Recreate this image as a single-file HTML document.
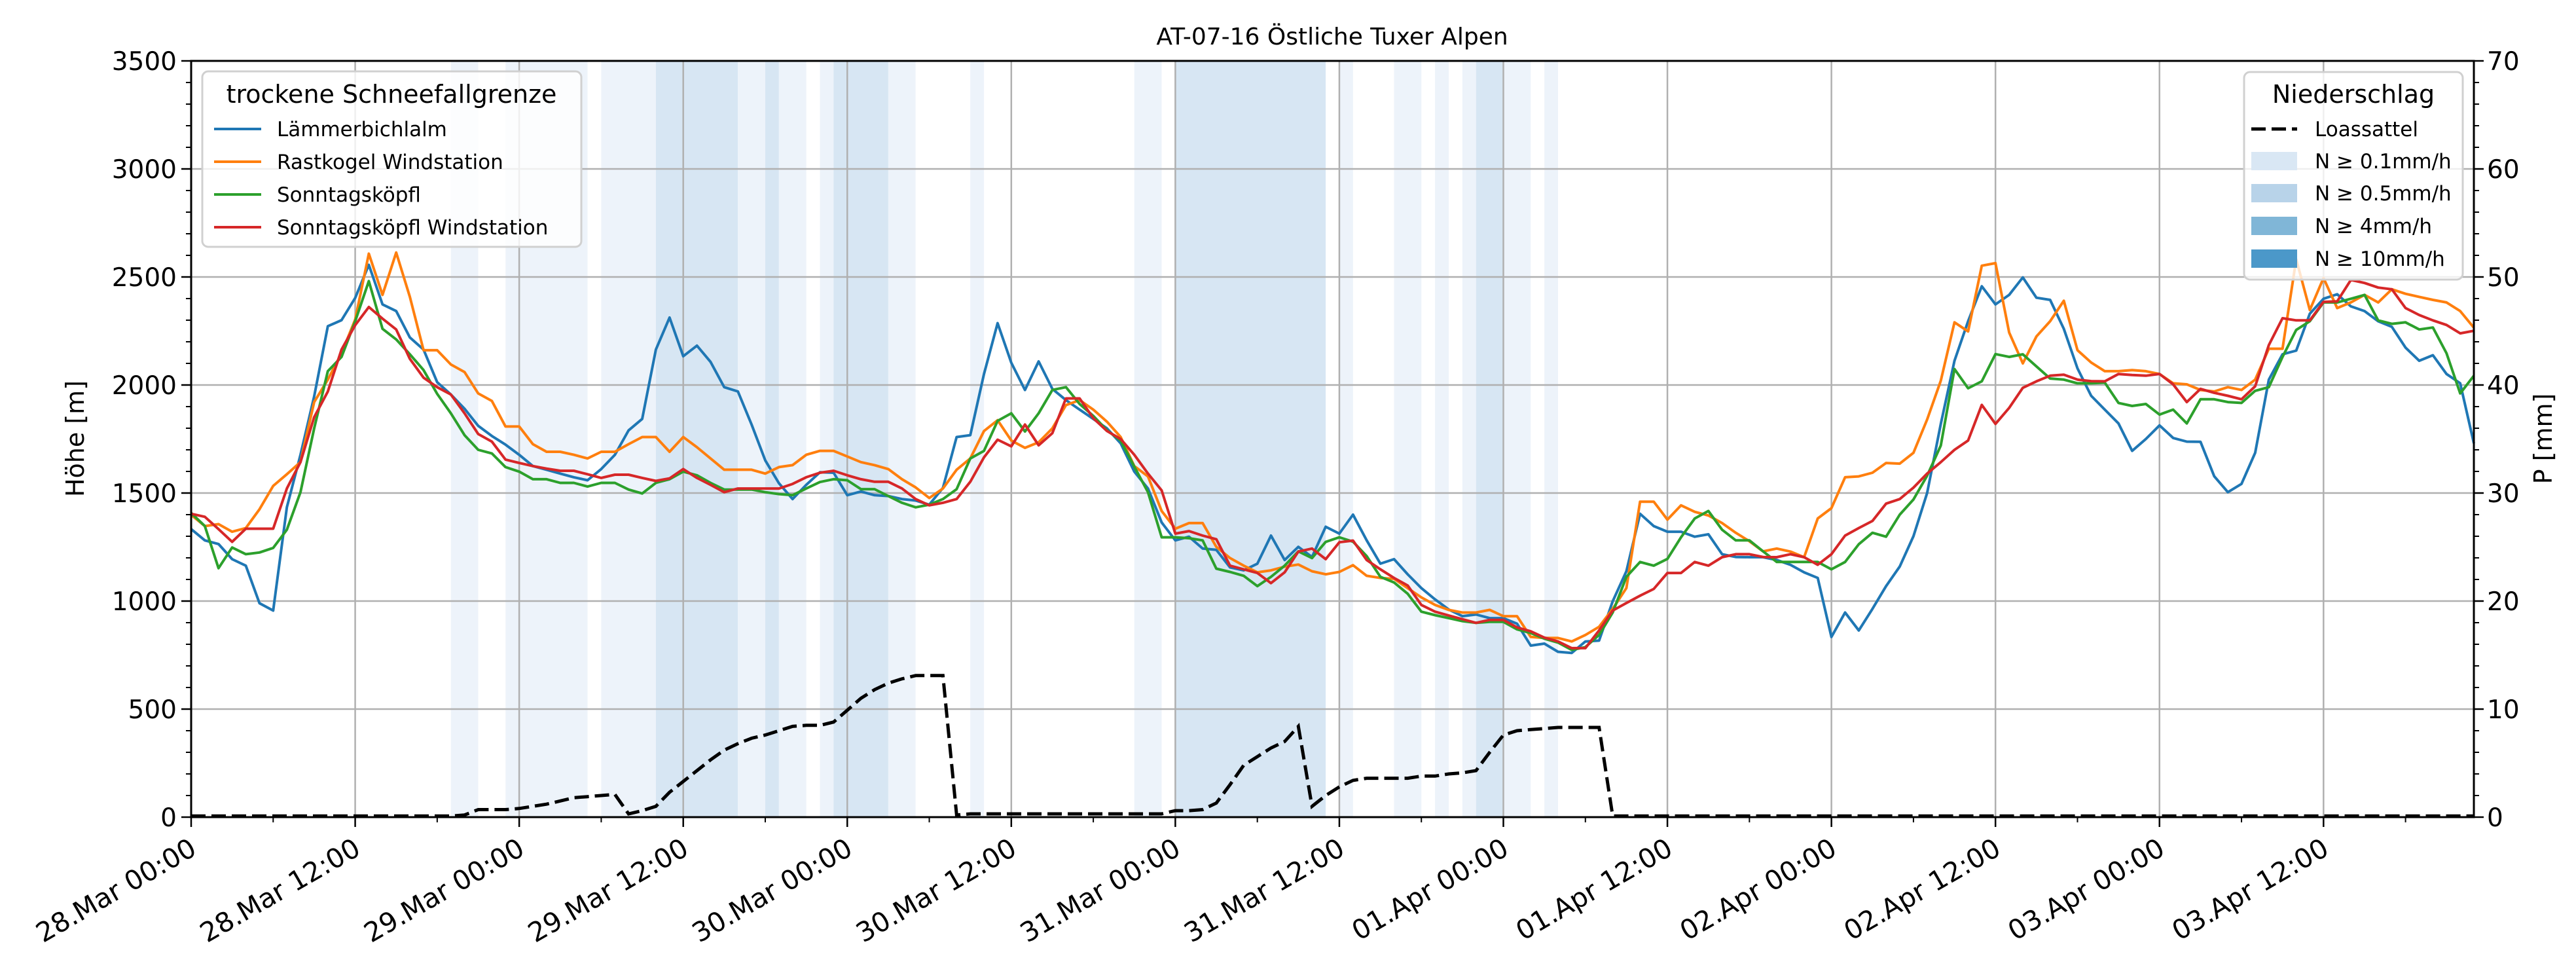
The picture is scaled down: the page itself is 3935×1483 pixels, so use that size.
<!DOCTYPE html>
<html><head><meta charset="utf-8"><style>
html,body{margin:0;padding:0;background:#fff;}
svg{display:block;font-family:"DejaVu Sans","Liberation Sans",sans-serif;}
</style></head><body>
<svg id="chart" width="3935" height="1483" viewBox="0 0 3935 1483" xmlns="http://www.w3.org/2000/svg">
<rect width="3935" height="1483" fill="#fff"/>
<g id="bands"></g>
<g id="grid"></g>
<g id="series"></g>
<g id="axes"></g>
<text x="2035" y="68" text-anchor="middle" font-size="36">AT-07-16 Östliche Tuxer Alpen</text>
<text transform="translate(128,670) rotate(-90)" text-anchor="middle" font-size="38">Höhe [m]</text>
<text transform="translate(3898,670) rotate(-90)" text-anchor="middle" font-size="38">P [mm]</text>
<g>
<rect x="309" y="109" width="579" height="268" rx="9" fill="#fff" fill-opacity="0.8" stroke="#d0d0d0" stroke-width="3"/>
<text x="598" y="157" text-anchor="middle" font-size="38">trockene Schneefallgrenze</text>
<line x1="327" y1="197" x2="399" y2="197" stroke="#1f77b4" stroke-width="4"/>
<text x="423" y="208" font-size="31">Lämmerbichlalm</text>
<line x1="327" y1="247" x2="399" y2="247" stroke="#ff7f0e" stroke-width="4"/>
<text x="423" y="258" font-size="31">Rastkogel Windstation</text>
<line x1="327" y1="297" x2="399" y2="297" stroke="#2ca02c" stroke-width="4"/>
<text x="423" y="308" font-size="31">Sonntagsköpfl</text>
<line x1="327" y1="347" x2="399" y2="347" stroke="#d62728" stroke-width="4"/>
<text x="423" y="358" font-size="31">Sonntagsköpfl Windstation</text>
</g>
<g>
<rect x="3428" y="110" width="334" height="317" rx="9" fill="#fff" fill-opacity="0.8" stroke="#d0d0d0" stroke-width="3"/>
<text x="3595" y="157" text-anchor="middle" font-size="38">Niederschlag</text>
<line x1="3439" y1="197" x2="3509" y2="197" stroke="#000" stroke-width="5" stroke-dasharray="22,9"/>
<text x="3536" y="208" font-size="31">Loassattel</text>
<rect x="3439" y="232" width="70" height="28" fill="#d9e7f4"/>
<text x="3536" y="257" font-size="31">N ≥ 0.1mm/h</text>
<rect x="3439" y="281" width="70" height="28" fill="#b8d3e9"/>
<text x="3536" y="306" font-size="31">N ≥ 0.5mm/h</text>
<rect x="3439" y="331" width="70" height="28" fill="#80b6d7"/>
<text x="3536" y="356" font-size="31">N ≥ 4mm/h</text>
<rect x="3439" y="381" width="70" height="28" fill="#4b98c9"/>
<text x="3536" y="406" font-size="31">N ≥ 10mm/h</text>
</g>
</svg>
<script>
const xTickLabels = ["28.Mar 00:00","28.Mar 12:00","29.Mar 00:00","29.Mar 12:00","30.Mar 00:00","30.Mar 12:00","31.Mar 00:00","31.Mar 12:00","01.Apr 00:00","01.Apr 12:00","02.Apr 00:00","02.Apr 12:00","03.Apr 00:00","03.Apr 12:00"];
const yTicks = [0,500,1000,1500,2000,2500,3000,3500];
const y2Ticks = [0,10,20,30,40,50,60,70];
const seriesNames = ["Lämmerbichlalm","Rastkogel Windstation","Sonntagsköpfl","Sonntagsköpfl Windstation"];
const seriesColors = ["#1f77b4","#ff7f0e","#2ca02c","#d62728"];
const blue = [1333,1281,1264,1194,1164,990,956,1434,1677,1947,2272,2300,2403,2556,2373,2342,2220,2164,2013,1956,1890,1811,1764,1724,1677,1625,1608,1590,1573,1559,1611,1677,1790,1843,2164,2312,2133,2182,2107,1990,1970,1817,1651,1545,1472,1538,1596,1594,1490,1507,1490,1486,1472,1465,1446,1524,1759,1768,2051,2286,2103,1977,2109,1982,1930,1886,1843,1799,1730,1599,1521,1364,1281,1298,1243,1237,1156,1142,1173,1303,1190,1251,1204,1344,1312,1400,1281,1173,1194,1124,1060,1008,961,930,938,921,921,895,794,803,765,760,813,817,999,1138,1404,1347,1321,1321,1298,1309,1217,1204,1203,1203,1190,1168,1133,1107,834,947,864,964,1069,1160,1300,1500,1820,2112,2295,2457,2373,2417,2498,2404,2394,2260,2077,1950,1886,1822,1695,1750,1813,1755,1738,1737,1578,1504,1542,1686,2025,2142,2159,2330,2399,2420,2364,2342,2295,2269,2173,2112,2138,2051,2008,1730];
const orange = [1399,1347,1356,1321,1338,1425,1533,1587,1643,1921,2025,2147,2303,2608,2417,2613,2408,2161,2161,2095,2060,1961,1926,1808,1808,1726,1691,1691,1677,1660,1691,1691,1726,1759,1759,1691,1759,1712,1660,1608,1608,1608,1590,1620,1629,1677,1695,1695,1669,1643,1629,1611,1564,1526,1477,1521,1608,1660,1787,1837,1743,1709,1735,1799,1907,1930,1886,1830,1759,1625,1577,1417,1335,1361,1361,1251,1199,1164,1133,1142,1159,1169,1138,1124,1135,1166,1117,1107,1103,1060,1017,982,959,947,947,959,930,930,834,829,829,813,843,881,964,1060,1460,1460,1377,1443,1413,1396,1361,1316,1277,1230,1243,1229,1203,1382,1430,1573,1577,1594,1639,1636,1686,1840,2020,2290,2248,2552,2564,2243,2100,2225,2295,2390,2161,2104,2064,2064,2069,2064,2051,2008,2003,1977,1970,1990,1977,2025,2168,2168,2582,2347,2495,2356,2382,2417,2382,2443,2422,2408,2394,2382,2342,2265];
const green = [1408,1347,1152,1248,1217,1225,1246,1330,1504,1799,2064,2130,2295,2481,2260,2211,2142,2069,1959,1869,1768,1700,1683,1620,1599,1564,1564,1547,1547,1530,1547,1547,1516,1498,1547,1564,1599,1582,1547,1516,1516,1516,1504,1495,1490,1521,1551,1564,1559,1518,1518,1486,1455,1434,1446,1472,1518,1660,1695,1834,1869,1785,1869,1977,1990,1912,1857,1790,1743,1622,1504,1295,1295,1291,1281,1150,1135,1117,1069,1112,1164,1230,1199,1274,1295,1275,1208,1112,1086,1034,951,935,921,907,899,904,904,869,852,826,808,774,787,843,947,1112,1181,1164,1195,1295,1382,1417,1330,1281,1281,1230,1181,1181,1181,1181,1147,1181,1263,1316,1298,1400,1470,1580,1720,2074,1985,2017,2143,2130,2142,2086,2030,2025,2008,2008,2011,1917,1903,1912,1863,1886,1822,1934,1934,1921,1917,1973,1990,2130,2255,2295,2382,2382,2399,2417,2299,2283,2290,2257,2266,2147,1961,2043];
const red = [1404,1390,1333,1274,1335,1335,1335,1521,1643,1851,1970,2164,2277,2361,2307,2257,2121,2034,1990,1956,1869,1773,1738,1655,1639,1625,1613,1603,1603,1587,1570,1585,1585,1570,1556,1568,1611,1570,1538,1504,1521,1521,1521,1521,1542,1573,1594,1603,1582,1564,1552,1552,1521,1472,1443,1455,1472,1552,1665,1747,1716,1817,1721,1777,1938,1938,1846,1787,1750,1677,1590,1512,1312,1324,1303,1286,1164,1147,1130,1083,1133,1229,1243,1194,1272,1280,1190,1147,1107,1072,982,951,933,916,899,913,913,878,860,831,813,782,782,864,956,991,1025,1056,1130,1130,1181,1164,1203,1217,1217,1204,1203,1217,1203,1168,1217,1303,1338,1371,1451,1472,1525,1590,1643,1700,1743,1908,1820,1894,1987,2017,2043,2048,2025,2018,2017,2051,2046,2043,2051,2003,1921,1982,1964,1950,1934,1994,2185,2309,2299,2299,2385,2387,2486,2472,2451,2443,2356,2324,2299,2278,2239,2251];
const precip = [0.1,0.1,0.1,0.1,0.1,0.1,0.1,0.1,0.1,0.1,0.1,0.1,0.1,0.1,0.1,0.1,0.1,0.1,0.1,0.1,0.2,0.7,0.7,0.7,0.8,1.0,1.2,1.5,1.8,1.9,2.0,2.1,0.3,0.6,1.0,2.3,3.3,4.3,5.3,6.2,6.8,7.3,7.6,8.0,8.4,8.5,8.5,8.8,9.9,11.0,11.8,12.4,12.8,13.1,13.1,13.1,0.2,0.3,0.3,0.3,0.3,0.3,0.3,0.3,0.3,0.3,0.3,0.3,0.3,0.3,0.3,0.3,0.6,0.6,0.7,1.3,3.0,4.8,5.6,6.4,7.0,8.4,1.0,2.0,2.8,3.4,3.6,3.6,3.6,3.6,3.8,3.8,4.0,4.1,4.3,6.0,7.6,8.0,8.1,8.2,8.3,8.3,8.3,8.3,0.1,0.1,0.1,0.1,0.1,0.1,0.1,0.1,0.1,0.1,0.1,0.1,0.1,0.1,0.1,0.1,0.1,0.1,0.1,0.1,0.1,0.1,0.1,0.1,0.1,0.1,0.1,0.1,0.1,0.1,0.1,0.1,0.1,0.1,0.1,0.1,0.1,0.1,0.1,0.1,0.1,0.1,0.1,0.1,0.1,0.1,0.1,0.1,0.1,0.1,0.1,0.1,0.1,0.1,0.1,0.1,0.1,0.1,0.1,0.1,0.1,0.1,0.1,0.1];
const bandStart = [19,23,30,34,40,42,43,46,47,51,57,69,72,84,88,91,93,94,96,99];
const bandEnd   = [21,29,34,40,42,43,45,47,51,53,58,71,83,85,90,92,94,96,98,100];
const bandLevel = [1,1,1,2,1,2,1,1,2,1,1,1,2,1,1,1,1,2,1,1];

const NS="http://www.w3.org/2000/svg";
const L=292,R=3779,T=93,B=1248,HMAX=167;
const xs=h=>L+(R-L)*h/HMAX;
const ys=v=>B-(B-T)*v/3500;
const ys2=v=>B-(B-T)*v/70;
function mk(tag,attrs,parent){const e=document.createElementNS(NS,tag);for(const k in attrs)e.setAttribute(k,attrs[k]);parent.appendChild(e);return e;}
const gB=document.getElementById('bands'),gG=document.getElementById('grid'),gS=document.getElementById('series'),gA=document.getElementById('axes');
const bandColors={1:"#edf3fa",2:"#d7e6f3"};
bandStart.forEach((s,i)=>{
  const r=mk('rect',{x:xs(s),y:T,width:xs(bandEnd[i])-xs(s),height:B-T,fill:bandColors[bandLevel[i]]},gB);
  
  
});
xTickLabels.forEach((lab,i)=>{
  const x=xs(i*12);
  const g=mk('line',{x1:x,y1:T,x2:x,y2:B,stroke:"#b0b0b0","stroke-width":2.5},gG);
  
  
  const t=mk('line',{x1:x,y1:B,x2:x,y2:B+15,stroke:"#000","stroke-width":2.5},gA);
  
  
  const tx=mk('text',{transform:`translate(${x-4},${B+30}) rotate(-30)`,"text-anchor":"end","font-size":41,dy:"0.72em"},gA);
  tx.textContent=lab;
  
  
});
for(let h=6;h<=HMAX;h+=12){const x=xs(h);const m=mk('line',{x1:x,y1:B,x2:x,y2:B+8,stroke:"#000","stroke-width":2},gA);
  
  }
yTicks.forEach(v=>{
  const y=ys(v);
  const g=mk('line',{x1:L,y1:y,x2:R,y2:y,stroke:"#b0b0b0","stroke-width":2.5},gG);
  
  
  const t=mk('line',{x1:L-15,y1:y,x2:L,y2:y,stroke:"#000","stroke-width":2.5},gA);
  
  
  const tx=mk('text',{x:L-22,y:y+14,"text-anchor":"end","font-size":39},gA);
  tx.textContent=v;
  
  
});
for(let v=100;v<3500;v+=100){if(v%500===0)continue;const y=ys(v);const m=mk('line',{x1:L-8,y1:y,x2:L,y2:y,stroke:"#000","stroke-width":2},gA);
  
  }
y2Ticks.forEach(v=>{
  const y=ys2(v);
  const t=mk('line',{x1:R,y1:y,x2:R+15,y2:y,stroke:"#000","stroke-width":2.5},gA);
  
  
  const tx=mk('text',{x:R+20,y:y+14,"font-size":39},gA);
  tx.textContent=v;
  
  
});
for(let v=2;v<70;v+=2){if(v%10===0)continue;const y=ys2(v);const m=mk('line',{x1:R,y1:y,x2:R+8,y2:y,stroke:"#000","stroke-width":2},gA);
  
  }
[blue,orange,green,red].forEach((arr,i)=>{
  const pts=arr.map((v,h)=>xs(h).toFixed(1)+','+ys(v).toFixed(1)).join(' ');
  const p=mk('polyline',{points:pts,fill:"none",stroke:seriesColors[i],"stroke-width":4,"stroke-linejoin":"round"},gS);
  
  
});
const pp=precip.map((v,h)=>xs(h).toFixed(1)+','+ys2(v).toFixed(1)).join(' ');
const pl=mk('polyline',{points:pp,fill:"none",stroke:"#000","stroke-width":5,"stroke-dasharray":"22,9"},gS);


const frame=mk('rect',{x:L,y:T,width:R-L,height:B-T,fill:"none",stroke:"#000","stroke-width":3},gA);


</script>
</body></html>
